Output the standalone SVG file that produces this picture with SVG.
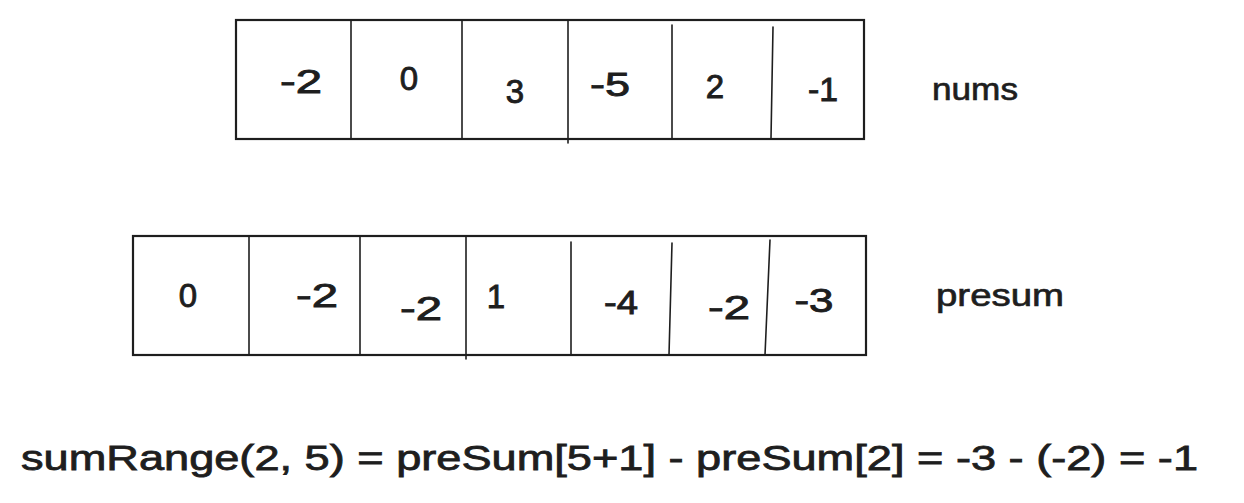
<svg xmlns="http://www.w3.org/2000/svg" width="1244" height="503" viewBox="0 0 1244 503">
<style>
.box{fill:#ffffff;stroke:#1e1e1e;stroke-width:2.2}
.div{stroke:#1e1e1e;stroke-width:1.6;fill:none;stroke-linecap:round}
.num{font-family:"Liberation Sans",Arial,sans-serif;font-size:33px;fill:#1e1e1e;stroke:#1e1e1e;stroke-width:0.9;text-anchor:middle}
.lbl{font-family:"Liberation Sans",Arial,sans-serif;font-size:32px;fill:#1e1e1e;stroke:#1e1e1e;stroke-width:0.7}
.f{font-family:"Liberation Sans",Arial,sans-serif;font-size:35px;fill:#1e1e1e;stroke:#1e1e1e;stroke-width:0.8}
</style>
<rect width="1244" height="503" fill="#ffffff"/>
<g id="nums-array">
  <rect class="box" x="236" y="20" width="628" height="119"/>
  <path class="div" d="M351 21 L351 139"/>
  <path class="div" d="M462 21 L462 139"/>
  <path class="div" d="M568 21 L568 143"/>
  <path class="div" d="M672 25 L672 139"/>
  <path class="div" d="M773 27 L771 138"/>
  <text class="num" x="301" y="93" textLength="42" lengthAdjust="spacingAndGlyphs">-2</text>
  <text class="num" x="409" y="90">0</text>
  <text class="num" x="515" y="103">3</text>
  <text class="num" x="610" y="96" textLength="40" lengthAdjust="spacingAndGlyphs">-5</text>
  <text class="num" x="715" y="98">2</text>
  <text class="num" x="823" y="101" textLength="30" lengthAdjust="spacingAndGlyphs">-1</text>
</g>
<g id="nums-label">
  <text class="lbl" x="932" y="100" textLength="86" lengthAdjust="spacingAndGlyphs">nums</text>
</g>
<g id="presum-array">
  <rect class="box" x="133" y="236" width="733" height="119"/>
  <path class="div" d="M249 237 L249 355"/>
  <path class="div" d="M360 237 L360 355"/>
  <path class="div" d="M466 237 L466 359"/>
  <path class="div" d="M571 242 L571 355"/>
  <path class="div" d="M672 243 L669 355"/>
  <path class="div" d="M770 240 L765 355"/>
  <text class="num" x="188" y="307">0</text>
  <text class="num" x="317" y="307" textLength="42" lengthAdjust="spacingAndGlyphs">-2</text>
  <text class="num" x="421" y="320" textLength="42" lengthAdjust="spacingAndGlyphs">-2</text>
  <text class="num" x="496" y="308">1</text>
  <text class="num" x="621" y="314" textLength="34" lengthAdjust="spacingAndGlyphs">-4</text>
  <text class="num" x="729" y="319" textLength="42" lengthAdjust="spacingAndGlyphs">-2</text>
  <text class="num" x="814" y="312" textLength="39" lengthAdjust="spacingAndGlyphs">-3</text>
</g>
<g id="presum-label">
  <text class="lbl" x="936" y="306" textLength="128" lengthAdjust="spacingAndGlyphs">presum</text>
</g>
<g id="formula">
  <text class="f" x="21" y="470" textLength="1177" lengthAdjust="spacingAndGlyphs">sumRange(2, 5) = preSum[5+1] - preSum[2] = -3 - (-2) = -1</text>
</g>
</svg>
